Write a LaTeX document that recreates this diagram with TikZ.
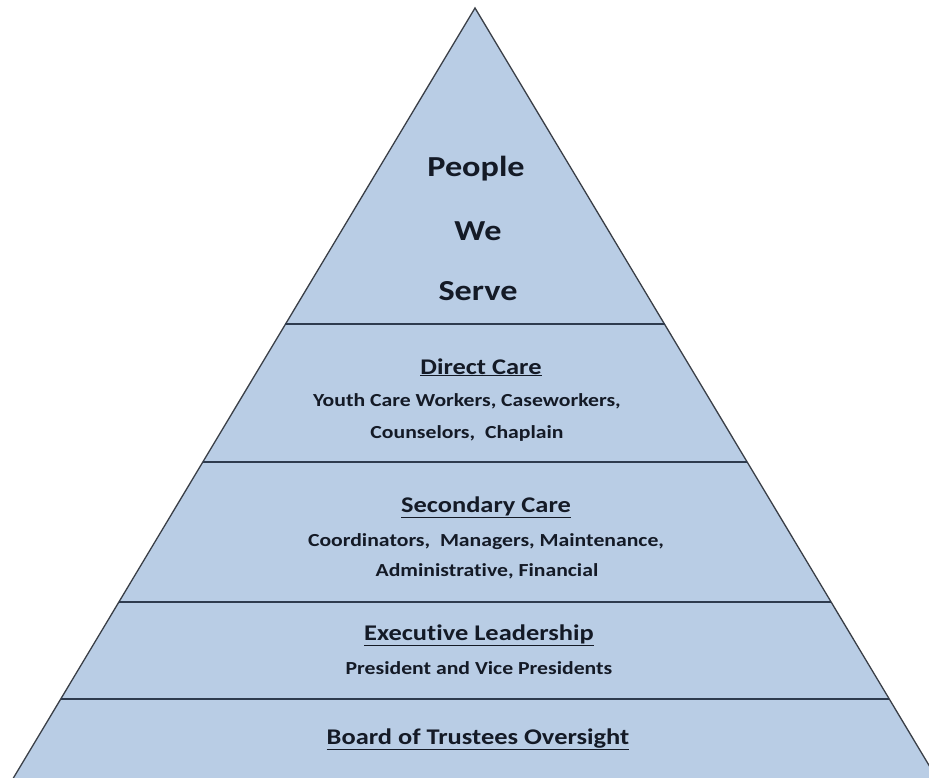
\documentclass[tikz,border=0pt]{standalone}
\usepackage{fontspec}
\setmainfont{Carlito}
\newfontfamily\pyrfont[FakeStretch=1.18,Ligatures={NoCommon,NoRare}]{Carlito}
\usetikzlibrary{calc}

\definecolor{pyrfill}{HTML}{B9CDE5}
\definecolor{pyredge}{HTML}{3A3F47}
\definecolor{tierline}{HTML}{2E3B4E}
\definecolor{pyrtext}{HTML}{141A26}

\begin{document}
\begin{tikzpicture}[
    x=1pt, y=-1pt,
    titletext/.style={
        font=\pyrfont\fontsize{29}{31}\selectfont\bfseries,
        text=pyrtext,
        anchor=base,
        inner sep=0pt
    },
    headtext/.style={
        font=\pyrfont\fontsize{22.4}{24}\selectfont\bfseries,
        text=pyrtext,
        anchor=base,
        inner sep=0pt
    },
    bodytext/.style={
        font=\pyrfont\fontsize{18.4}{20}\selectfont\bfseries,
        text=pyrtext,
        anchor=base,
        inner sep=0pt
    },
    pyramid/.style={
        draw=pyredge,
        fill=pyrfill,
        line width=1.3pt,
        line join=miter
    },
    divider/.style={
        draw=tierline,
        line width=2pt
    }
]
\useasboundingbox (0,0) rectangle (929,777);
\clip (0,0) rectangle (929,777);
% ============================================================
% PYRAMID OUTLINE
% ============================================================
\coordinate (apex) at (475,8);
\coordinate (baseleft) at (-10,817);
\coordinate (baseright) at (960,817);
\draw[pyramid] (apex) -- (baseright) -- (baseleft) -- cycle;
% ============================================================
% TIER DIVIDERS -- points on the two sides
% ============================================================
\foreach \name/\t in {one/0.3910, two/0.5617, three/0.7346, four/0.8541} {
    \coordinate (\name L) at ($(apex)!\t!(baseleft)$);
    \coordinate (\name R) at ($(apex)!\t!(baseright)$);
}
\draw[divider] (oneL)   -- (oneR);
\draw[divider] (twoL)   -- (twoR);
\draw[divider] (threeL) -- (threeR);
\draw[divider] (fourL)  -- (fourR);
% ============================================================
% TOP TIER
% ============================================================
\node[titletext] (people) at (476,176) {People};
\node[titletext] (we)     at (478,240) {We};
\node[titletext] (serve)  at (478,300) {Serve};
% ============================================================
% DIRECT CARE
% ============================================================
\node[headtext] (direct) at (481,374) {\underline{Direct Care}};
\node[bodytext] (directA) at (467,406) {Youth Care Workers, Caseworkers,};
\node[bodytext] (directB) at (467,438) {Counselors,\ \ Chaplain};
% ============================================================
% SECONDARY CARE
% ============================================================
\node[headtext] (second) at (486,512) {\underline{Secondary Care}};
\node[bodytext] (secondA) at (486,546) {Coordinators,\ \ Managers, Maintenance,};
\node[bodytext] (secondB) at (487,576) {Administrative, Financial};
% ============================================================
% EXECUTIVE LEADERSHIP
% ============================================================
\node[headtext] (exec) at (479,640) {\underline{Executive Leadership}};
\node[bodytext] (execA) at (479,674) {President and Vice Presidents};
% ============================================================
% BOARD
% ============================================================
\node[headtext] (board) at (478,744) {\underline{Board of Trustees Oversight}};
\end{tikzpicture}
\end{document}
